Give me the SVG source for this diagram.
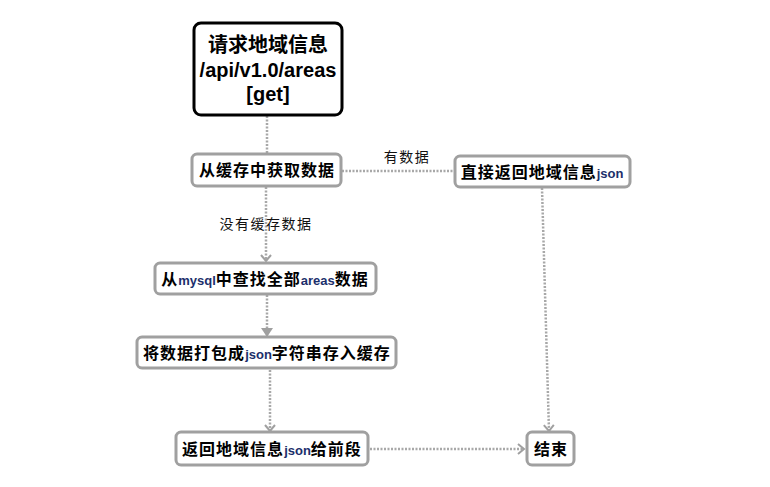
<svg xmlns="http://www.w3.org/2000/svg" width="770" height="487" viewBox="0 0 770 487">
<defs>
<style>
.box{fill:#fff;stroke:#a0a0a0;stroke-width:3}
.t{font-family:"Noto Sans CJK SC","Liberation Sans",sans-serif;font-weight:bold;font-size:16px;fill:#000;text-anchor:middle;letter-spacing:1px}
.lat{font-family:"Liberation Sans",Arial,sans-serif;font-size:13px;fill:#1c2f6b;letter-spacing:0}
.big{font-family:"Liberation Sans","Noto Sans CJK SC",sans-serif;font-weight:bold;font-size:20px;fill:#000;text-anchor:middle}
.lbl{font-family:"Noto Sans CJK SC",sans-serif;font-size:14px;fill:#111;text-anchor:middle;letter-spacing:1.5px}
.c{fill:none;stroke:#a8a8a8;stroke-width:2.5;stroke-dasharray:2 1.5}
</style>
<marker id="chev" markerWidth="12" markerHeight="12" refX="9" refY="6" orient="auto" markerUnits="userSpaceOnUse">
<path d="M3,1 L9,6 L3,11" fill="none" stroke="#a0a0a0" stroke-width="2"/>
</marker>
<marker id="tri" markerWidth="14" markerHeight="14" refX="10" refY="7" orient="auto" markerUnits="userSpaceOnUse">
<path d="M2,1 L11,7 L2,13 Z" fill="#a0a0a0"/>
</marker>
</defs>
<g id="connectors">
<line class="c" x1="267" y1="116" x2="267" y2="153"/>
<line class="c" x1="342" y1="171" x2="453" y2="171"/>
<line class="c" x1="266" y1="187" x2="266" y2="261" marker-end="url(#chev)"/>
<line class="c" x1="267" y1="295" x2="267" y2="336" marker-end="url(#tri)"/>
<line class="c" x1="270" y1="370" x2="270" y2="431" marker-end="url(#chev)"/>
<line class="c" x1="542" y1="188" x2="549" y2="431" marker-end="url(#chev)"/>
<line class="c" x1="370" y1="449" x2="524" y2="449" marker-end="url(#chev)"/>
<text class="lbl" x="407" y="162">有数据</text>
<text class="lbl" x="266" y="229">没有缓存数据</text>
</g>
<g id="n1">
<rect x="194" y="23" width="148" height="92" rx="7" fill="#fff" stroke="#000" stroke-width="3"/>
<text class="big" x="268" y="52">请求地域信息</text>
<text class="big" x="268" y="77">/api/v1.0/areas</text>
<text class="big" x="268" y="101">[get]</text>
</g>
<g id="n2">
<rect class="box" x="192" y="154" width="149" height="32" rx="5"/>
<text class="t" x="267" y="176">从缓存中获取数据</text>
</g>
<g id="n3">
<rect class="box" x="455" y="156" width="175" height="31" rx="5"/>
<text class="t" x="542" y="178">直接返回地域信息<tspan class="lat">json</tspan></text>
</g>
<g id="n4">
<rect class="box" x="155" y="263" width="221" height="31" rx="5"/>
<text class="t" x="265" y="285">从<tspan class="lat">mysql</tspan>中查找全部<tspan class="lat">areas</tspan>数据</text>
</g>
<g id="n5">
<rect class="box" x="137" y="337" width="259" height="31" rx="5"/>
<text class="t" x="267" y="359">将数据打包成<tspan class="lat">json</tspan>字符串存入缓存</text>
</g>
<g id="n6">
<rect class="box" x="176" y="432" width="192" height="33" rx="5"/>
<text class="t" x="272" y="455">返回地域信息<tspan class="lat">json</tspan>给前段</text>
</g>
<g id="n7">
<rect class="box" x="527" y="432" width="47" height="33" rx="5"/>
<text class="t" x="551" y="455">结束</text>
</g>
</svg>
